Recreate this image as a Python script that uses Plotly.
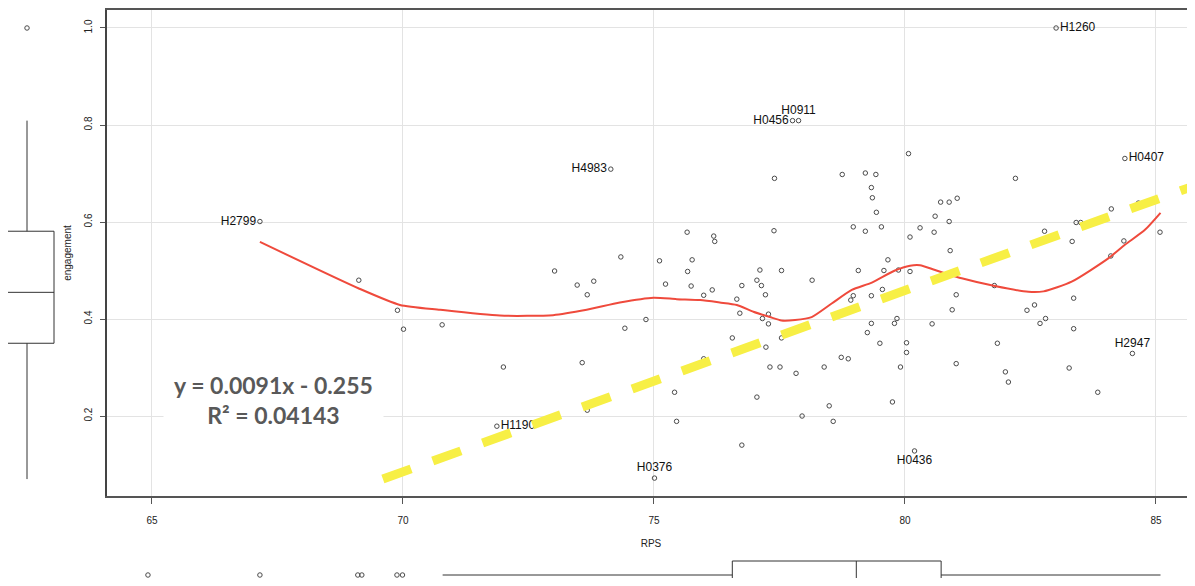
import plotly.graph_objects as go

# ---------------- data ----------------
rps = [69.12, 69.89, 70.01, 70.78, 77.40, 75.66, 76.19, 76.21, 77.39, 74.34,
       73.02, 75.11, 75.76, 75.67, 77.11, 77.54, 73.47, 73.80, 73.67, 75.23,
       75.74, 76.75, 77.05, 77.14, 77.22, 76.16, 75.99, 76.65, 76.71, 77.28,
       77.16, 77.28, 74.84, 74.42, 76.56, 77.54, 77.23, 75.99, 73.57, 72.00,
       77.31, 77.51, 77.83, 75.41, 77.05, 73.67, 75.45, 76.75,
       80.07, 78.75, 79.21, 79.42, 82.20, 79.33, 79.35, 81.04, 80.71, 80.88,
       79.43, 84.65, 84.11, 80.60, 80.88, 83.41, 83.50, 78.97, 79.53, 79.21,
       80.58, 82.78, 85.08, 80.30, 80.10, 83.33, 84.36, 80.90, 84.10, 79.66,
       78.15, 79.07, 79.58, 79.87, 80.10, 79.55, 81.78, 78.97, 79.33, 81.02,
       83.36,
       78.92, 80.94, 82.58, 82.43, 79.84, 82.80, 79.33, 79.79, 80.54, 82.69,
       79.25, 83.36, 79.50, 80.03, 81.84, 80.03, 78.73, 78.87, 78.39, 79.91,
       81.02, 83.27, 82.00, 82.06, 83.84, 79.75, 78.49, 77.95, 78.57]
engagement = [0.480, 0.418, 0.379, 0.388, 0.690, 0.579, 0.571, 0.560, 0.582, 0.528,
              0.499, 0.520, 0.522, 0.498, 0.501, 0.500, 0.470, 0.478, 0.450, 0.472,
              0.468, 0.469, 0.480, 0.469, 0.450, 0.460, 0.449, 0.441, 0.412, 0.410,
              0.401, 0.390, 0.399, 0.381, 0.361, 0.361, 0.342, 0.318, 0.310, 0.301,
              0.301, 0.301, 0.288, 0.249, 0.239, 0.212, 0.189, 0.140,
              0.741, 0.698, 0.701, 0.698, 0.690, 0.671, 0.650, 0.649, 0.641, 0.641,
              0.620, 0.639, 0.627, 0.612, 0.601, 0.599, 0.599, 0.590, 0.590, 0.581,
              0.579, 0.581, 0.579, 0.588, 0.569, 0.560, 0.561, 0.541, 0.530, 0.522,
              0.480, 0.500, 0.500, 0.501, 0.498, 0.461, 0.469, 0.448, 0.448, 0.450,
              0.443,
              0.439, 0.419, 0.429, 0.418, 0.401, 0.401, 0.391, 0.391, 0.390, 0.391,
              0.372, 0.380, 0.350, 0.351, 0.350, 0.331, 0.321, 0.318, 0.301, 0.301,
              0.308, 0.299, 0.291, 0.270, 0.249, 0.229, 0.221, 0.200, 0.189]

label_names = ["H2799", "H4983", "H0456", "H0911", "H1260",
               "H0407", "H2947", "H0436", "H0376", "H1190"]
label_rps = [67.15, 74.14, 77.76, 77.88, 83.01, 84.38, 84.53, 80.19, 75.01, 71.87]
label_eng = [0.601, 0.709, 0.809, 0.809, 1.000, 0.731, 0.329, 0.128, 0.072, 0.179]
label_pos = ["middle left", "middle left", "middle left", "top center", "middle right",
             "middle right", "top center", "bottom center", "top center", "middle right"]

smooth_x = [67.15, 69.12, 69.94, 70.74, 71.93, 72.99, 73.66, 74.32, 74.99, 75.45,
            75.92, 76.31, 76.65, 76.98, 77.31, 77.54, 77.81, 78.14, 78.54, 78.94,
            79.34, 79.80, 80.10, 80.30, 80.60, 81.13, 81.79, 82.46, 82.76, 83.32,
            84.05, 84.38, 84.78, 85.09]
smooth_y = [0.559, 0.463, 0.429, 0.419, 0.407, 0.408, 0.419, 0.434, 0.444, 0.441,
            0.439, 0.434, 0.429, 0.415, 0.404, 0.397, 0.398, 0.404, 0.432, 0.460,
            0.475, 0.500, 0.510, 0.511, 0.501, 0.484, 0.468, 0.456, 0.457, 0.477,
            0.525, 0.553, 0.584, 0.619]

trend_x = [69.6, 85.8]
trend_y = [0.070, 0.676]

# marginal boxplot statistics
eng_box = dict(q1=0.350, median=0.455, q3=0.581, lo=0.070, hi=0.809)
eng_outliers = [1.000]
rps_box = dict(q1=76.56, median=79.03, q3=80.72, lo=70.79, hi=85.09)
rps_outliers = [64.92, 67.15, 69.10, 69.18, 69.88, 69.99]

eq_text = "y = 0.0091x - 0.255<br>R² = 0.04143"

# ---------------- figure ----------------
# the page body adds an 8px offset, so the figure is sized to fit the window
W, H = 1187, 570
XR = [64.104, 85.777]
YR = [0.0351, 1.0371]
XDOM = [99 / W, 1.0]
YDOM = [(H - 488) / H, (H - 2) / H]

fig = go.Figure()

txt_col = "#222222"
pt_col = "#4a4a4a"
mk = dict(symbol="circle-open", size=4.5, color=pt_col, line=dict(width=1, color=pt_col))

fig.add_trace(go.Scatter(
    x=rps, y=engagement, mode="markers", marker=mk,
    showlegend=False, hoverinfo="x+y"))

fig.add_trace(go.Scatter(
    x=label_rps, y=label_eng, mode="markers+text", text=label_names,
    textposition=label_pos,
    textfont=dict(family="Liberation Sans, Arial", size=12, color="#111111"),
    marker=mk, showlegend=False))

fig.add_trace(go.Scatter(
    x=smooth_x, y=smooth_y, mode="lines",
    line=dict(color="#ef4a3c", width=2, shape="spline", smoothing=0.6),
    showlegend=False, hoverinfo="skip"))

fig.add_trace(go.Scatter(
    x=trend_x, y=trend_y, mode="lines",
    line=dict(color="#f7ef45", width=9, dash="30px,23px"),
    showlegend=False, hoverinfo="skip"))

# left marginal box (engagement)
fig.add_trace(go.Box(
    x=[0], q1=[eng_box["q1"]], median=[eng_box["median"]], q3=[eng_box["q3"]],
    lowerfence=[eng_box["lo"]], upperfence=[eng_box["hi"]],
    width=2, whiskerwidth=0, boxpoints=False,
    fillcolor="white", line=dict(color="#333333", width=1),
    xaxis="x2", yaxis="y2", showlegend=False))
fig.add_trace(go.Scatter(
    x=[0] * len(eng_outliers), y=eng_outliers, mode="markers", marker=mk,
    xaxis="x2", yaxis="y2", showlegend=False))

# bottom marginal box (RPS)
fig.add_trace(go.Box(
    y=[0], q1=[rps_box["q1"]], median=[rps_box["median"]], q3=[rps_box["q3"]],
    lowerfence=[rps_box["lo"]], upperfence=[rps_box["hi"]], orientation="h",
    width=2.8, whiskerwidth=0, boxpoints=False,
    fillcolor="white", line=dict(color="#333333", width=1),
    xaxis="x3", yaxis="y3", showlegend=False))
fig.add_trace(go.Scatter(
    x=rps_outliers, y=[0] * len(rps_outliers), mode="markers", marker=mk,
    xaxis="x3", yaxis="y3", showlegend=False))

axis_font = dict(family="Liberation Sans, Arial", size=10, color=txt_col)
grid = "#e3e3e3"

fig.update_layout(
    width=W, height=H,
    margin=dict(l=0, r=0, t=0, b=0, pad=0, autoexpand=False),
    paper_bgcolor="white", plot_bgcolor="white",
    font=axis_font,
    xaxis=dict(domain=XDOM, range=XR, anchor="y", automargin=False,
               tickvals=[65, 70, 75, 80, 85], ticks="outside", ticklen=6,
               tickcolor="#555555", tickfont=axis_font, ticklabelstandoff=8,
               showgrid=True, gridcolor=grid, gridwidth=1, zeroline=False,
               showline=True, linecolor="#555555", linewidth=2, mirror=True,
               title=dict(text="RPS", font=axis_font, standoff=15)),
    yaxis=dict(domain=YDOM, range=YR, anchor="x", automargin=False,
               tickvals=[0.2, 0.4, 0.6, 0.8, 1.0], tickformat=".1f", tickangle=-90,
               ticks="outside", ticklen=5, tickcolor="#555555", tickfont=axis_font,
               ticklabelstandoff=4,
               showgrid=True, gridcolor=grid, gridwidth=1, zeroline=False,
               showline=True, linecolor="#444444", linewidth=1.5,
               title=dict(text="engagement", font=axis_font, standoff=10)),
    xaxis2=dict(domain=[0, 48 / W], range=[-0.7037, 1.0741], anchor="y2",
                visible=False, automargin=False),
    yaxis2=dict(domain=YDOM, range=YR, anchor="x2", visible=False, automargin=False),
    xaxis3=dict(domain=XDOM, range=XR, anchor="y3", visible=False, automargin=False),
    yaxis3=dict(domain=[0, 40 / H], range=[-0.3, 3.7], anchor="x3",
                visible=False, automargin=False),
    annotations=[dict(
        x=67.43, y=0.233, xref="x", yref="y", text=eq_text, showarrow=False,
        font=dict(family="Lato, Open Sans", size=23, color="#595959", weight="bold"),
        bgcolor="white", borderpad=10, align="center")],
)

fig.write_html("out.html")
